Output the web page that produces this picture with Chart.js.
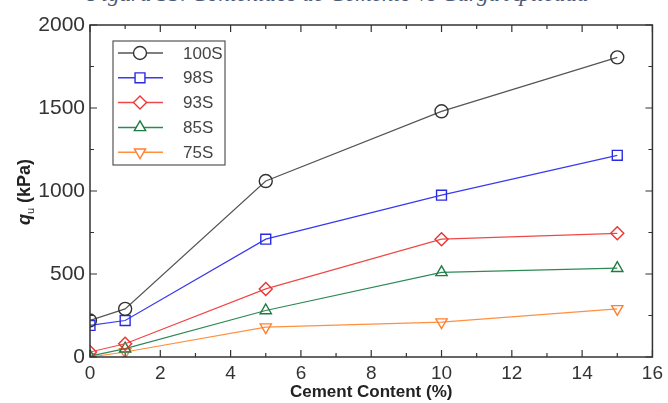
<!DOCTYPE html>
<html>
<head>
<meta charset="utf-8">
<script src="https://cdn.jsdelivr.net/npm/chart.js@4.4.0/dist/chart.umd.min.js"></script>
<style>
  html, body { margin: 0; padding: 0; background: #fff; }
  #wrap { position: relative; width: 668px; height: 403px; overflow: hidden; }
  #caption {
    position: absolute; left: 4px; width: 668px; top: -19px; text-align: center;
    font: italic 23px "Liberation Serif", serif; color: #4d5a78; white-space: nowrap;
  }
  canvas { position: absolute; left: 0; top: 0; }
</style>
</head>
<body>
<div id="wrap">
  <div id="caption">Figura 33. Contenidos de Cemento vs Carga Aplicada</div>
  <canvas id="chart" width="668" height="403"></canvas>
</div>
<script>
// cement content (%) and q_u (kPa)
const cement = [0, 1, 5, 10, 15];
const s100 = [220, 290, 1060, 1480, 1805];
const s98 = [190, 220, 710, 975, 1215];
const s93 = [30, 80, 410, 710, 745];
const s85 = [5, 50, 280, 510, 535];
const s75 = [0, 30, 180, 210, 290];

const seriesNames = ["100S", "98S", "93S", "85S", "75S"];
const seriesValues = [s100, s98, s93, s85, s75];
const lineColors = ["#555555", "#3a3aee", "#f04848", "#2e8a55", "#ff9040"];
const markColors = ["#333333", "#2a2ae0", "#ee3333", "#1f7a45", "#ff8030"];
const markStyles = ["circle", "rect", "rectRot", "triangle", "triangle"];
const markRot = [0, 0, 0, 0, 180];

const xTicks = [0, 2, 4, 6, 8, 10, 12, 14, 16];
const yTicks = [0, 500, 1000, 1500, 2000];

const FONT = "'Liberation Sans', Arial, sans-serif";

const datasets = seriesNames.map((name, i) => ({
  label: name,
  data: cement.map((c, j) => ({ x: c, y: seriesValues[i][j] })),
  borderColor: lineColors[i],
  borderWidth: 1.2,
  pointStyle: markStyles[i],
  pointRotation: markRot[i],
  pointRadius: markStyles[i] === "rect" ? 7 : 6.5,
  pointBorderColor: markColors[i],
  pointBackgroundColor: "rgba(255,255,255,0)",
  pointBorderWidth: 1.4,
  tension: 0,
}));

// inward ticks on all four sides, frame, legend and y title
const framePlugin = {
  id: "frame",
  afterDraw(chart) {
    const { ctx, chartArea: a, scales } = chart;
    const xs = scales.x, ys = scales.y;
    ctx.save();
    ctx.strokeStyle = "#333";
    ctx.lineWidth = 1.5;
    ctx.strokeRect(a.left, a.top, a.right - a.left, a.bottom - a.top);
    ctx.lineWidth = 1.2;
    for (let v = 0; v <= 16; v++) {
      const px = xs.getPixelForValue(v);
      const len = v % 2 === 0 ? 7 : 4;
      ctx.beginPath();
      ctx.moveTo(px, a.bottom); ctx.lineTo(px, a.bottom - len);
      ctx.moveTo(px, a.top); ctx.lineTo(px, a.top + len);
      ctx.stroke();
    }
    for (let v = 0; v <= 2000; v += 250) {
      const py = ys.getPixelForValue(v);
      const len = v % 500 === 0 ? 7 : 4;
      ctx.beginPath();
      ctx.moveTo(a.left, py); ctx.lineTo(a.left + len, py);
      ctx.moveTo(a.right, py); ctx.lineTo(a.right - len, py);
      ctx.stroke();
    }

    // legend box
    ctx.strokeStyle = "#555";
    ctx.lineWidth = 1.2;
    ctx.strokeRect(113, 41, 112, 124);
    chart.data.datasets.forEach((ds, i) => {
      const y = 53 + i * 24.8;
      ctx.strokeStyle = ds.borderColor;
      ctx.lineWidth = 1.5;
      ctx.beginPath();
      ctx.moveTo(118, y); ctx.lineTo(163, y);
      ctx.stroke();
      ctx.strokeStyle = ds.pointBorderColor;
      ctx.fillStyle = "#fff";
      ctx.lineWidth = ds.pointBorderWidth;
      Chart.helpers.drawPoint(ctx, {
        pointStyle: ds.pointStyle, rotation: ds.pointRotation,
        radius: ds.pointRadius, borderWidth: ds.pointBorderWidth,
      }, 140, y);
      ctx.fillStyle = "#444";
      ctx.font = "17px " + FONT;
      ctx.textBaseline = "middle";
      ctx.textAlign = "left";
      ctx.fillText(ds.label, 183, y + 1);
    });

    // y axis title: q_u (kPa)
    ctx.translate(24, 192);
    ctx.rotate(-Math.PI / 2);
    ctx.fillStyle = "#222";
    ctx.textBaseline = "alphabetic";
    ctx.textAlign = "left";
    ctx.font = "italic bold 18px " + FONT;
    const w1 = ctx.measureText("q").width;
    ctx.font = "bold 18px " + FONT;
    const w3 = ctx.measureText(" (kPa)").width;
    ctx.font = "11px " + FONT;
    const w2 = ctx.measureText("u").width;
    let x0 = -(w1 + w2 + w3) / 2;
    ctx.font = "italic bold 18px " + FONT;
    ctx.fillText("q", x0, 6);
    ctx.font = "11px " + FONT;
    ctx.fillText("u", x0 + w1, 10);
    ctx.font = "bold 18px " + FONT;
    ctx.fillText(" (kPa)", x0 + w1 + w2, 6);
    ctx.restore();
  },
};

new Chart(document.getElementById("chart"), {
  type: "line",
  data: { datasets },
  options: {
    responsive: false,
    animation: false,
    layout: { padding: { left: 0, right: 14, top: 25, bottom: 0 } },
    plugins: { legend: { display: false }, tooltip: { enabled: false } },
    scales: {
      x: {
        type: "linear",
        min: 0, max: 16,
        afterBuildTicks: (s) => { s.ticks = xTicks.map((v) => ({ value: v })); },
        afterFit: (s) => { s.height = 46; },
        grid: { display: false, drawTicks: false },
        border: { display: false },
        ticks: {
          color: "#333", font: { family: FONT, size: 19 }, padding: 5, maxRotation: 0,
          callback: (v) => String(v),
        },
        title: {
          display: true, text: "Cement Content (%)", color: "#222",
          font: { family: FONT, size: 17, weight: "bold" }, padding: { top: 0, bottom: 0 },
        },
      },
      y: {
        type: "linear",
        min: 0, max: 2000,
        afterBuildTicks: (s) => { s.ticks = yTicks.map((v) => ({ value: v })); },
        afterFit: (s) => { s.width = 90; },
        grid: { display: false, drawTicks: false },
        border: { display: false },
        ticks: {
          color: "#333", font: { family: FONT, size: 21 }, padding: 5,
          callback: (v) => String(v),
        },
      },
    },
  },
  plugins: [framePlugin],
});
</script>
</body>
</html>
